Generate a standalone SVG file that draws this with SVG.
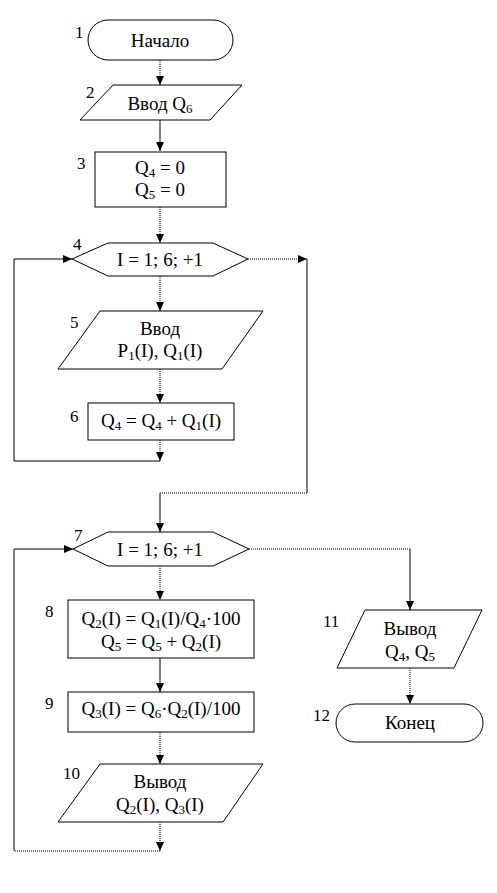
<svg xmlns="http://www.w3.org/2000/svg" width="497" height="893" viewBox="0 0 497 893">
<style>
.s{fill:#fff;stroke:#000;stroke-width:1}
.t{font-family:"Liberation Serif","Times New Roman",serif;font-size:19px;fill:#000;text-anchor:middle}
.n{font-family:"Liberation Serif","Times New Roman",serif;font-size:17px;fill:#000}
.c{fill:none;stroke:#000;stroke-width:1}
.d{stroke-dasharray:1 1}
.b{font-size:13px}
</style>
<defs>
<marker id="ah" markerUnits="userSpaceOnUse" markerWidth="9" markerHeight="8" refX="9" refY="4" orient="auto">
<path d="M0,0 L9,4 L0,8 z" fill="#000"/>
</marker>
</defs>
<rect width="497" height="893" fill="#fff"/>
<g id="connectors">
<path class="c d" d="M160,60 V85" marker-end="url(#ah)"/>
<path class="c" d="M160,120 V151" marker-end="url(#ah)"/>
<path class="c d" d="M160,207 V243" marker-end="url(#ah)"/>
<path class="c d" d="M248,259 H307" marker-end="url(#ah)"/>
<path class="c" d="M307,259 V493"/>
<path class="c d" d="M307,493 H160"/>
<path class="c" d="M160,493 V532" marker-end="url(#ah)"/>
<path class="c d" d="M160,276 V311" marker-end="url(#ah)"/>
<path class="c d" d="M160,369 V403" marker-end="url(#ah)"/>
<path class="c d" d="M160,440 V461" marker-end="url(#ah)"/>
<path class="c" d="M160,461 H14 V259 H72" marker-end="url(#ah)"/>
<path class="c d" d="M160,566 V600" marker-end="url(#ah)"/>
<path class="c" d="M160,658 V692" marker-end="url(#ah)"/>
<path class="c d" d="M160,732 V764" marker-end="url(#ah)"/>
<path class="c d" d="M160,822 V851" marker-end="url(#ah)"/>
<path class="c d" d="M160,851 H14"/>
<path class="c" d="M14,851 V549 H73" marker-end="url(#ah)"/>
<path class="c d" d="M249,549 H410"/>
<path class="c" d="M410,549 V610" marker-end="url(#ah)"/>
<path class="c d" d="M410,668 V704" marker-end="url(#ah)"/>
</g>
<g id="node1">
<rect class="s" x="88" y="20" width="145" height="40" rx="20"/>
<text class="t" x="160" y="47">Начало</text>
<text class="n" x="75" y="38">1</text>
</g>
<g id="node2">
<polygon class="s" points="113,85 242,85 210,120 80,120"/>
<text class="t" x="160" y="110">Ввод Q<tspan class="b" dy="3">6</tspan></text>
<text class="n" x="86" y="98">2</text>
</g>
<g id="node3">
<rect class="s" x="95" y="152" width="131" height="55"/>
<text class="t" x="160" y="174">Q<tspan class="b" dy="3">4</tspan><tspan dy="-3"> = 0</tspan></text>
<text class="t" x="160" y="196">Q<tspan class="b" dy="3">5</tspan><tspan dy="-3"> = 0</tspan></text>
<text class="n" x="77" y="169">3</text>
</g>
<g id="node4">
<polygon class="s" points="72,259 108,243 213,243 248,259 213,276 108,276"/>
<text class="t" x="160" y="266">I = 1; 6; +1</text>
<text class="n" x="73" y="250">4</text>
</g>
<g id="node5">
<polygon class="s" points="100,311 263,311 222,369 58,369"/>
<text class="t" x="160" y="335">Ввод</text>
<text class="t" x="160" y="357">P<tspan class="b" dy="3">1</tspan><tspan dy="-3">(I), Q</tspan><tspan class="b" dy="3">1</tspan><tspan dy="-3">(I)</tspan></text>
<text class="n" x="70" y="328">5</text>
</g>
<g id="node6">
<rect class="s" x="88" y="403" width="146" height="37"/>
<text class="t" x="161" y="427">Q<tspan class="b" dy="3">4</tspan><tspan dy="-3"> = Q</tspan><tspan class="b" dy="3">4</tspan><tspan dy="-3"> + Q</tspan><tspan class="b" dy="3">1</tspan><tspan dy="-3">(I)</tspan></text>
<text class="n" x="70" y="422">6</text>
</g>
<g id="node7">
<polygon class="s" points="73,549 108,532 213,532 249,549 213,566 108,566"/>
<text class="t" x="160" y="556">I = 1; 6; +1</text>
<text class="n" x="74" y="541">7</text>
</g>
<g id="node8">
<rect class="s" x="68" y="600" width="186" height="58"/>
<text class="t" x="161" y="625">Q<tspan class="b" dy="3">2</tspan><tspan dy="-3">(I) = Q</tspan><tspan class="b" dy="3">1</tspan><tspan dy="-3">(I)/Q</tspan><tspan class="b" dy="3">4</tspan><tspan dy="-3">·100</tspan></text>
<text class="t" x="161" y="648">Q<tspan class="b" dy="3">5</tspan><tspan dy="-3"> = Q</tspan><tspan class="b" dy="3">5</tspan><tspan dy="-3"> + Q</tspan><tspan class="b" dy="3">2</tspan><tspan dy="-3">(I)</tspan></text>
<text class="n" x="45" y="617">8</text>
</g>
<g id="node9">
<rect class="s" x="68" y="692" width="186" height="40"/>
<text class="t" x="161" y="715">Q<tspan class="b" dy="3">3</tspan><tspan dy="-3">(I) = Q</tspan><tspan class="b" dy="3">6</tspan><tspan dy="-3">·Q</tspan><tspan class="b" dy="3">2</tspan><tspan dy="-3">(I)/100</tspan></text>
<text class="n" x="45" y="709">9</text>
</g>
<g id="node10">
<polygon class="s" points="100,764 263,764 223,822 58,822"/>
<text class="t" x="160" y="788">Вывод</text>
<text class="t" x="160" y="811">Q<tspan class="b" dy="3">2</tspan><tspan dy="-3">(I), Q</tspan><tspan class="b" dy="3">3</tspan><tspan dy="-3">(I)</tspan></text>
<text class="n" x="63" y="779">10</text>
</g>
<g id="node11">
<polygon class="s" points="365,610 482,610 454,668 337,668"/>
<text class="t" x="410" y="635">Вывод</text>
<text class="t" x="410" y="658">Q<tspan class="b" dy="3">4</tspan><tspan dy="-3">, Q</tspan><tspan class="b" dy="3">5</tspan></text>
<text class="n" x="323" y="627">11</text>
</g>
<g id="node12">
<rect class="s" x="336" y="704" width="147" height="38" rx="19"/>
<text class="t" x="410" y="729">Конец</text>
<text class="n" x="313" y="721">12</text>
</g>
</svg>
